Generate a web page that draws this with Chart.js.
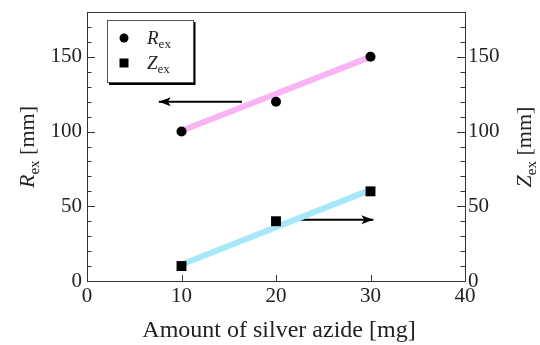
<!DOCTYPE html>
<html>
<head>
<meta charset="utf-8">
<script src="https://cdn.jsdelivr.net/npm/chart.js@4/dist/chart.umd.min.js"></script>
<style>
  html, body { margin: 0; padding: 0; background: #fff; }
</style>
</head>
<body>
<canvas id="myChart" width="540" height="345"></canvas>
<script>
// values
const amount = [10, 20, 30];
const rEx = [100, 120, 150];
const zEx = [10, 40, 60];

// straight fit lines (end points)
const fitX = [10, 30];
const rFit = [100.5, 150];
const zFit = [11, 61];

// arrows pointing to the matching axis
const arrowLeftX = [16.4, 7.6];
const arrowLeftY = [120, 120];
const arrowRightX = [21.5, 30.3];
const arrowRightY = [41, 41];

// axis ticks
const xTicks = [0, 10, 20, 30, 40];
const yTicks = [0, 50, 100, 150];
const yMinor = [10, 20, 30, 40, 60, 70, 80, 90, 110, 120, 130, 140, 160, 170];

const legendNames = ["R", "Z"];
const legendSub = "ex";

const SERIF = '"Liberation Serif", "DejaVu Serif", serif';
const INK = '#222';

function pts(xs, ys) {
    return xs.map((x, i) => ({ x: x, y: ys[i] }));
}

// text with an italic letter and a small upright subscript
function richWidth(ctx, main, sub, rest, size) {
    ctx.font = 'italic ' + size + 'px ' + SERIF;
    let w = ctx.measureText(main).width;
    ctx.font = Math.round(size * 0.7) + 'px ' + SERIF;
    w += ctx.measureText(sub).width;
    ctx.font = size + 'px ' + SERIF;
    w += ctx.measureText(rest).width;
    return w;
}
function drawRich(ctx, main, sub, rest, size, x, y) {
    ctx.textBaseline = 'alphabetic';
    ctx.textAlign = 'left';
    ctx.font = 'italic ' + size + 'px ' + SERIF;
    ctx.fillText(main, x, y);
    x += ctx.measureText(main).width;
    ctx.font = Math.round(size * 0.7) + 'px ' + SERIF;
    ctx.fillText(sub, x, y + size * 0.22);
    x += ctx.measureText(sub).width;
    if (rest) {
        ctx.font = size + 'px ' + SERIF;
        ctx.fillText(rest, x, y);
    }
}
function vTitle(ctx, main, sub, rest, size, cy, baseX) {
    ctx.save();
    const w = richWidth(ctx, main, sub, rest, size);
    ctx.translate(baseX, cy);
    ctx.rotate(-Math.PI / 2);
    drawRich(ctx, main, sub, rest, size, -w / 2, 0);
    ctx.restore();
}

const decor = {
    id: 'decor',
    afterDatasetsDraw(chart) {
        const ctx = chart.ctx;
        const a = chart.chartArea;
        const x = chart.scales.x, y = chart.scales.y;

        // arrow heads
        [[arrowLeftX, arrowLeftY], [arrowRightX, arrowRightY]].forEach(([ax, ay]) => {
            const x0 = x.getPixelForValue(ax[0]), y0 = y.getPixelForValue(ay[0]);
            const x1 = x.getPixelForValue(ax[1]), y1 = y.getPixelForValue(ay[1]);
            const ang = Math.atan2(y1 - y0, x1 - x0);
            ctx.save();
            ctx.translate(x1, y1);
            ctx.rotate(ang);
            ctx.fillStyle = '#000';
            ctx.beginPath();
            ctx.moveTo(0, 0);
            ctx.lineTo(-12, -4.5);
            ctx.lineTo(-9, 0);
            ctx.lineTo(-12, 4.5);
            ctx.closePath();
            ctx.fill();
            ctx.restore();
        });

        // frame
        ctx.save();
        ctx.strokeStyle = '#333';
        ctx.lineWidth = 1;
        ctx.strokeRect(Math.round(a.left) + 0.5, Math.round(a.top) + 0.5,
            Math.round(a.right - a.left), Math.round(a.bottom - a.top));

        // inward tick marks
        ctx.beginPath();
        yTicks.forEach(v => {
            const py = Math.round(y.getPixelForValue(v)) + 0.5;
            ctx.moveTo(a.left, py); ctx.lineTo(a.left + 8, py);
            ctx.moveTo(a.right, py); ctx.lineTo(a.right - 8, py);
        });
        yMinor.forEach(v => {
            const py = Math.round(y.getPixelForValue(v)) + 0.5;
            ctx.moveTo(a.left, py); ctx.lineTo(a.left + 4.5, py);
            ctx.moveTo(a.right, py); ctx.lineTo(a.right - 4.5, py);
        });
        xTicks.slice(1, -1).forEach(v => {
            const px = Math.round(x.getPixelForValue(v)) + 0.5;
            ctx.moveTo(px, a.bottom); ctx.lineTo(px, a.bottom - 6);
        });
        ctx.stroke();

        // legend box with shadow
        const lx = 107, ly = 20, lw = 86, lh = 62;
        ctx.fillStyle = '#000';
        ctx.fillRect(lx + 2, ly + lh, lw, 3);
        ctx.fillRect(lx + lw, ly + 2, 2.5, lh + 1);
        ctx.fillStyle = '#fff';
        ctx.fillRect(lx, ly, lw, lh);
        ctx.strokeStyle = '#555';
        ctx.strokeRect(lx + 0.5, ly + 0.5, lw, lh);

        ctx.fillStyle = '#000';
        ctx.beginPath();
        ctx.arc(124, 38, 4.5, 0, Math.PI * 2);
        ctx.fill();
        ctx.fillRect(119.5, 58.5, 9, 9);
        ctx.fillStyle = INK;
        drawRich(ctx, legendNames[0], legendSub, '', 19, 147, 44);
        drawRich(ctx, legendNames[1], legendSub, '', 19, 147, 69);

        // axis titles
        ctx.fillStyle = INK;
        ctx.font = '24px ' + SERIF;
        ctx.textAlign = 'center';
        ctx.textBaseline = 'alphabetic';
        ctx.fillText('Amount of silver azide [mg]', 279, 337);
        vTitle(ctx, 'R', 'ex', ' [mm]', 22, 147, 34);
        vTitle(ctx, 'Z', 'ex', ' [mm]', 22, 147, 531);
        ctx.restore();
    }
};

const tickFont = { family: SERIF, size: 21 };

// fixed box sizes so the plot area lands where it is in the picture
function fixBox(w, h) {
    return s => {
        if (w !== null) s.width = w;
        if (h !== null) s.height = h;
        s.paddingTop = 0; s.paddingBottom = 0;
        s.paddingLeft = 0; s.paddingRight = 0;
    };
}

new Chart(document.getElementById('myChart').getContext('2d'), {
    type: 'scatter',
    data: {
        datasets: [
            {
                label: 'Rex',
                data: pts(amount, rEx),
                yAxisID: 'y',
                pointStyle: 'circle',
                pointRadius: 5,
                backgroundColor: '#000',
                borderWidth: 0,
                order: 0
            },
            {
                label: 'Zex',
                data: pts(amount, zEx),
                yAxisID: 'y2',
                pointStyle: 'rect',
                pointRadius: 7,
                backgroundColor: '#000',
                borderWidth: 0,
                order: 0
            },
            {
                type: 'line',
                label: 'Rex fit',
                data: pts(fitX, rFit),
                yAxisID: 'y',
                borderColor: '#f9b4f3',
                borderWidth: 6,
                pointRadius: 0,
                order: 1
            },
            {
                type: 'line',
                label: 'Zex fit',
                data: pts(fitX, zFit),
                yAxisID: 'y2',
                borderColor: '#a6e8fa',
                borderWidth: 6,
                pointRadius: 0,
                order: 1
            },
            {
                type: 'line',
                label: 'to left axis',
                data: pts(arrowLeftX, arrowLeftY),
                yAxisID: 'y',
                borderColor: '#000',
                borderWidth: 2,
                pointRadius: 0,
                order: 2
            },
            {
                type: 'line',
                label: 'to right axis',
                data: pts(arrowRightX, arrowRightY),
                yAxisID: 'y',
                borderColor: '#000',
                borderWidth: 2,
                pointRadius: 0,
                order: 2
            }
        ]
    },
    options: {
        responsive: false,
        animation: false,
        devicePixelRatio: 1,
        layout: { padding: { top: 12, left: 0, right: 0, bottom: 0 } },
        plugins: {
            legend: { display: false },
            tooltip: { enabled: false }
        },
        scales: {
            x: {
                type: 'linear',
                min: 0,
                max: 40,
                afterBuildTicks: s => { s.ticks = xTicks.map(v => ({ value: v })); },
                afterFit: fixBox(null, 64),
                grid: { display: false, drawTicks: false },
                border: { display: false },
                ticks: { font: tickFont, color: INK, padding: 3, maxRotation: 0 }
            },
            y: {
                position: 'left',
                min: 0,
                max: 180,
                afterBuildTicks: s => { s.ticks = yTicks.map(v => ({ value: v })); },
                afterFit: fixBox(87, null),
                grid: { display: false, drawTicks: false },
                border: { display: false },
                ticks: { font: tickFont, color: INK, padding: 5 }
            },
            y2: {
                position: 'right',
                min: 0,
                max: 180,
                afterBuildTicks: s => { s.ticks = yTicks.map(v => ({ value: v })); },
                afterFit: fixBox(75, null),
                grid: { display: false, drawTicks: false },
                border: { display: false },
                ticks: { font: tickFont, color: INK, padding: 3 }
            }
        }
    },
    plugins: [decor]
});
</script>
</body>
</html>
